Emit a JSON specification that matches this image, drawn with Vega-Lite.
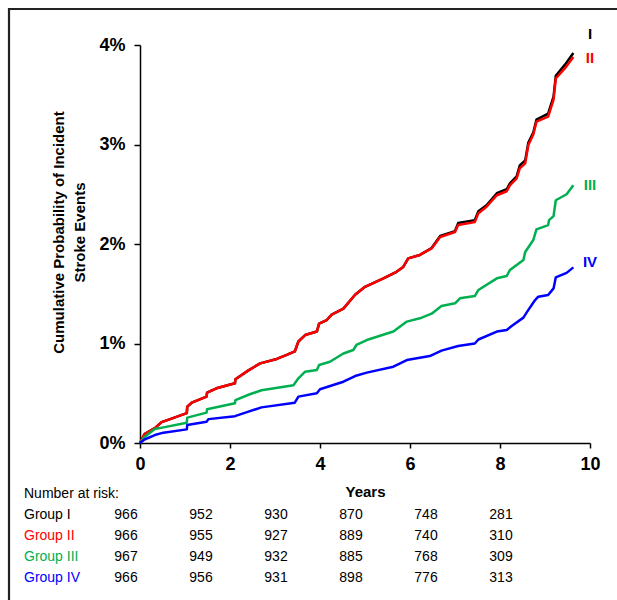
{
  "$schema": "https://vega.github.io/schema/vega-lite/v6.json",
  "width": 450,
  "height": 398,
  "autosize": {"type": "none"},
  "padding": {"left": 140, "top": 45, "right": 27, "bottom": 157},
  "background": "white",
  "config": {
    "view": {"stroke": null},
    "font": "Liberation Sans",
    "axis": {
      "grid": false,
      "domainColor": "#000",
      "domainWidth": 1.5,
      "tickColor": "#000",
      "tickWidth": 1.5,
      "labelFont": "Liberation Sans",
      "labelFontSize": 18,
      "labelFontWeight": "bold",
      "labelColor": "#000",
      "labelFlush": false,
      "titleFont": "Liberation Sans",
      "titleFontSize": 15,
      "titleFontWeight": "bold",
      "titleColor": "#000"
    },
    "axisX": {"tickSize": 5, "labelPadding": 7, "titlePadding": 11, "labelFlush": false},
    "axisY": {"tickSize": 6, "labelPadding": 9, "titlePadding": 11, "titleLineHeight": 21, "titleY": 187}
  },
  "datasets": {
    "frame": [{"t": -2.911, "t2": 11, "p": -1.8, "p2": 4.362}],
    "curves": [
      {"g": "I", "t": 0, "p": 0}, {"g": "I", "t": 0.1, "p": 0.09}, {"g": "I", "t": 0.33, "p": 0.15}, {"g": "I", "t": 0.48, "p": 0.21}, {"g": "I", "t": 0.67, "p": 0.24}, {"g": "I", "t": 1.04, "p": 0.3}, {"g": "I", "t": 1.05, "p": 0.365}, {"g": "I", "t": 1.15, "p": 0.405}, {"g": "I", "t": 1.48, "p": 0.466}, {"g": "I", "t": 1.49, "p": 0.506}, {"g": "I", "t": 1.7, "p": 0.55}, {"g": "I", "t": 2.11, "p": 0.6}, {"g": "I", "t": 2.12, "p": 0.64}, {"g": "I", "t": 2.41, "p": 0.73}, {"g": "I", "t": 2.67, "p": 0.8}, {"g": "I", "t": 3.04, "p": 0.845}, {"g": "I", "t": 3.26, "p": 0.885}, {"g": "I", "t": 3.44, "p": 0.92}, {"g": "I", "t": 3.52, "p": 1.02}, {"g": "I", "t": 3.67, "p": 1.085}, {"g": "I", "t": 3.93, "p": 1.12}, {"g": "I", "t": 3.98, "p": 1.2}, {"g": "I", "t": 4.15, "p": 1.236}, {"g": "I", "t": 4.26, "p": 1.29}, {"g": "I", "t": 4.52, "p": 1.35}, {"g": "I", "t": 4.78, "p": 1.49}, {"g": "I", "t": 5.0, "p": 1.57}, {"g": "I", "t": 5.41, "p": 1.655}, {"g": "I", "t": 5.7, "p": 1.72}, {"g": "I", "t": 5.85, "p": 1.77}, {"g": "I", "t": 5.96, "p": 1.856}, {"g": "I", "t": 6.22, "p": 1.89}, {"g": "I", "t": 6.48, "p": 1.96}, {"g": "I", "t": 6.67, "p": 2.08}, {"g": "I", "t": 7.0, "p": 2.13}, {"g": "I", "t": 7.07, "p": 2.21}, {"g": "I", "t": 7.44, "p": 2.24}, {"g": "I", "t": 7.52, "p": 2.33}, {"g": "I", "t": 7.7, "p": 2.39}, {"g": "I", "t": 7.93, "p": 2.51}, {"g": "I", "t": 8.15, "p": 2.55}, {"g": "I", "t": 8.22, "p": 2.61}, {"g": "I", "t": 8.37, "p": 2.68}, {"g": "I", "t": 8.44, "p": 2.79}, {"g": "I", "t": 8.56, "p": 2.84}, {"g": "I", "t": 8.63, "p": 3.02}, {"g": "I", "t": 8.74, "p": 3.12}, {"g": "I", "t": 8.81, "p": 3.25}, {"g": "I", "t": 9.07, "p": 3.31}, {"g": "I", "t": 9.19, "p": 3.48}, {"g": "I", "t": 9.24, "p": 3.69}, {"g": "I", "t": 9.44, "p": 3.8}, {"g": "I", "t": 9.63, "p": 3.92},
      {"g": "II", "t": 0, "p": 0}, {"g": "II", "t": 0.1, "p": 0.09}, {"g": "II", "t": 0.33, "p": 0.15}, {"g": "II", "t": 0.48, "p": 0.21}, {"g": "II", "t": 0.67, "p": 0.24}, {"g": "II", "t": 1.04, "p": 0.3}, {"g": "II", "t": 1.05, "p": 0.365}, {"g": "II", "t": 1.15, "p": 0.405}, {"g": "II", "t": 1.48, "p": 0.466}, {"g": "II", "t": 1.49, "p": 0.506}, {"g": "II", "t": 1.7, "p": 0.55}, {"g": "II", "t": 2.11, "p": 0.6}, {"g": "II", "t": 2.12, "p": 0.64}, {"g": "II", "t": 2.41, "p": 0.73}, {"g": "II", "t": 2.67, "p": 0.8}, {"g": "II", "t": 3.04, "p": 0.845}, {"g": "II", "t": 3.26, "p": 0.885}, {"g": "II", "t": 3.44, "p": 0.92}, {"g": "II", "t": 3.52, "p": 1.02}, {"g": "II", "t": 3.67, "p": 1.085}, {"g": "II", "t": 3.93, "p": 1.12}, {"g": "II", "t": 3.98, "p": 1.2}, {"g": "II", "t": 4.15, "p": 1.236}, {"g": "II", "t": 4.26, "p": 1.29}, {"g": "II", "t": 4.52, "p": 1.35}, {"g": "II", "t": 4.78, "p": 1.49}, {"g": "II", "t": 5.0, "p": 1.57}, {"g": "II", "t": 5.41, "p": 1.655}, {"g": "II", "t": 5.7, "p": 1.72}, {"g": "II", "t": 5.85, "p": 1.77}, {"g": "II", "t": 5.96, "p": 1.856}, {"g": "II", "t": 6.22, "p": 1.89}, {"g": "II", "t": 6.48, "p": 1.956}, {"g": "II", "t": 6.67, "p": 2.07}, {"g": "II", "t": 7.0, "p": 2.12}, {"g": "II", "t": 7.07, "p": 2.19}, {"g": "II", "t": 7.44, "p": 2.22}, {"g": "II", "t": 7.52, "p": 2.31}, {"g": "II", "t": 7.7, "p": 2.375}, {"g": "II", "t": 7.93, "p": 2.49}, {"g": "II", "t": 8.15, "p": 2.53}, {"g": "II", "t": 8.22, "p": 2.59}, {"g": "II", "t": 8.37, "p": 2.66}, {"g": "II", "t": 8.44, "p": 2.76}, {"g": "II", "t": 8.56, "p": 2.81}, {"g": "II", "t": 8.63, "p": 2.995}, {"g": "II", "t": 8.74, "p": 3.1}, {"g": "II", "t": 8.81, "p": 3.23}, {"g": "II", "t": 9.07, "p": 3.28}, {"g": "II", "t": 9.19, "p": 3.45}, {"g": "II", "t": 9.24, "p": 3.665}, {"g": "II", "t": 9.44, "p": 3.765}, {"g": "II", "t": 9.63, "p": 3.88},
      {"g": "III", "t": 0, "p": 0}, {"g": "III", "t": 0.1, "p": 0.06}, {"g": "III", "t": 0.33, "p": 0.14}, {"g": "III", "t": 0.52, "p": 0.157}, {"g": "III", "t": 1.04, "p": 0.204}, {"g": "III", "t": 1.05, "p": 0.255}, {"g": "III", "t": 1.48, "p": 0.305}, {"g": "III", "t": 1.49, "p": 0.34}, {"g": "III", "t": 2.11, "p": 0.4}, {"g": "III", "t": 2.12, "p": 0.43}, {"g": "III", "t": 2.44, "p": 0.49}, {"g": "III", "t": 2.7, "p": 0.53}, {"g": "III", "t": 3.41, "p": 0.58}, {"g": "III", "t": 3.52, "p": 0.65}, {"g": "III", "t": 3.67, "p": 0.717}, {"g": "III", "t": 3.93, "p": 0.734}, {"g": "III", "t": 3.98, "p": 0.784}, {"g": "III", "t": 4.22, "p": 0.817}, {"g": "III", "t": 4.52, "p": 0.9}, {"g": "III", "t": 4.74, "p": 0.935}, {"g": "III", "t": 4.81, "p": 0.985}, {"g": "III", "t": 5.04, "p": 1.035}, {"g": "III", "t": 5.63, "p": 1.12}, {"g": "III", "t": 5.93, "p": 1.22}, {"g": "III", "t": 6.22, "p": 1.253}, {"g": "III", "t": 6.48, "p": 1.3}, {"g": "III", "t": 6.7, "p": 1.377}, {"g": "III", "t": 7.0, "p": 1.404}, {"g": "III", "t": 7.11, "p": 1.454}, {"g": "III", "t": 7.44, "p": 1.477}, {"g": "III", "t": 7.52, "p": 1.538}, {"g": "III", "t": 7.93, "p": 1.655}, {"g": "III", "t": 8.15, "p": 1.678}, {"g": "III", "t": 8.22, "p": 1.739}, {"g": "III", "t": 8.52, "p": 1.84}, {"g": "III", "t": 8.56, "p": 1.92}, {"g": "III", "t": 8.74, "p": 2.04}, {"g": "III", "t": 8.81, "p": 2.147}, {"g": "III", "t": 9.07, "p": 2.19}, {"g": "III", "t": 9.09, "p": 2.24}, {"g": "III", "t": 9.19, "p": 2.28}, {"g": "III", "t": 9.24, "p": 2.44}, {"g": "III", "t": 9.48, "p": 2.5}, {"g": "III", "t": 9.63, "p": 2.59},
      {"g": "IV", "t": 0, "p": 0}, {"g": "IV", "t": 0.1, "p": 0.035}, {"g": "IV", "t": 0.33, "p": 0.08}, {"g": "IV", "t": 0.52, "p": 0.104}, {"g": "IV", "t": 1.04, "p": 0.137}, {"g": "IV", "t": 1.05, "p": 0.18}, {"g": "IV", "t": 1.48, "p": 0.214}, {"g": "IV", "t": 1.52, "p": 0.24}, {"g": "IV", "t": 2.11, "p": 0.27}, {"g": "IV", "t": 2.41, "p": 0.315}, {"g": "IV", "t": 2.7, "p": 0.358}, {"g": "IV", "t": 3.44, "p": 0.405}, {"g": "IV", "t": 3.52, "p": 0.466}, {"g": "IV", "t": 3.93, "p": 0.5}, {"g": "IV", "t": 4.0, "p": 0.54}, {"g": "IV", "t": 4.52, "p": 0.616}, {"g": "IV", "t": 4.78, "p": 0.673}, {"g": "IV", "t": 5.04, "p": 0.707}, {"g": "IV", "t": 5.63, "p": 0.767}, {"g": "IV", "t": 5.93, "p": 0.834}, {"g": "IV", "t": 6.44, "p": 0.874}, {"g": "IV", "t": 6.7, "p": 0.928}, {"g": "IV", "t": 7.07, "p": 0.975}, {"g": "IV", "t": 7.44, "p": 1.0}, {"g": "IV", "t": 7.52, "p": 1.04}, {"g": "IV", "t": 7.93, "p": 1.12}, {"g": "IV", "t": 8.15, "p": 1.136}, {"g": "IV", "t": 8.26, "p": 1.176}, {"g": "IV", "t": 8.52, "p": 1.26}, {"g": "IV", "t": 8.59, "p": 1.31}, {"g": "IV", "t": 8.78, "p": 1.437}, {"g": "IV", "t": 8.85, "p": 1.47}, {"g": "IV", "t": 9.07, "p": 1.487}, {"g": "IV", "t": 9.19, "p": 1.554}, {"g": "IV", "t": 9.24, "p": 1.665}, {"g": "IV", "t": 9.48, "p": 1.71}, {"g": "IV", "t": 9.63, "p": 1.765}
    ],
    "endlabels": [
      {"g": "I", "t": 10, "p": 4.11},
      {"g": "II", "t": 10, "p": 3.87},
      {"g": "III", "t": 10, "p": 2.59},
      {"g": "IV", "t": 10, "p": 1.82}
    ],
    "rowlabels": [
      {"grp": "hdr", "label": "Number at risk:", "row": 0, "col": 0},
      {"grp": "I", "label": "Group I", "row": 1, "col": 0},
      {"grp": "II", "label": "Group II", "row": 2, "col": 0},
      {"grp": "III", "label": "Group III", "row": 3, "col": 0},
      {"grp": "IV", "label": "Group IV", "row": 4, "col": 0}
    ],
    "risk": [
      {"row": 1, "col": 1, "n": 966}, {"row": 1, "col": 2, "n": 952}, {"row": 1, "col": 3, "n": 930}, {"row": 1, "col": 4, "n": 870}, {"row": 1, "col": 5, "n": 748}, {"row": 1, "col": 6, "n": 281},
      {"row": 2, "col": 1, "n": 966}, {"row": 2, "col": 2, "n": 955}, {"row": 2, "col": 3, "n": 927}, {"row": 2, "col": 4, "n": 889}, {"row": 2, "col": 5, "n": 740}, {"row": 2, "col": 6, "n": 310},
      {"row": 3, "col": 1, "n": 967}, {"row": 3, "col": 2, "n": 949}, {"row": 3, "col": 3, "n": 932}, {"row": 3, "col": 4, "n": 885}, {"row": 3, "col": 5, "n": 768}, {"row": 3, "col": 6, "n": 309},
      {"row": 4, "col": 1, "n": 966}, {"row": 4, "col": 2, "n": 956}, {"row": 4, "col": 3, "n": 931}, {"row": 4, "col": 4, "n": 898}, {"row": 4, "col": 5, "n": 776}, {"row": 4, "col": 6, "n": 313}
    ]
  },
  "layer": [
    {
      "layer": [
        {
          "data": {"name": "frame"},
          "mark": {"type": "rect", "filled": false, "color": "#222222", "strokeWidth": 2.2},
          "encoding": {
            "x": {"field": "t", "type": "quantitative", "title": "Years", "scale": {"domain": [0, 10], "nice": false, "zero": false}, "axis": {"values": [0, 2, 4, 6, 8, 10], "format": "d", "title": "Years", "labelFlush": false}},
            "x2": {"field": "t2"},
            "y": {"field": "p", "type": "quantitative", "title": ["Cumulative Probability of Incident", "Stroke Events"], "scale": {"domain": [0, 4], "nice": false, "zero": false}, "axis": {"values": [0, 1, 2, 3, 4], "labelExpr": "datum.value + '%'", "title": ["Cumulative Probability of Incident", "Stroke Events"]}},
            "y2": {"field": "p2"}
          }
        },
        {
          "data": {"name": "curves"},
          "mark": {"type": "line", "strokeWidth": 2.5, "strokeJoin": "round"},
          "encoding": {
            "x": {"field": "t", "type": "quantitative", "title": "Years", "scale": {"domain": [0, 10], "nice": false, "zero": false}, "axis": {"values": [0, 2, 4, 6, 8, 10], "format": "d", "title": "Years", "labelFlush": false}},
            "y": {"field": "p", "type": "quantitative", "title": ["Cumulative Probability of Incident", "Stroke Events"], "scale": {"domain": [0, 4], "nice": false, "zero": false}, "axis": {"values": [0, 1, 2, 3, 4], "labelExpr": "datum.value + '%'", "title": ["Cumulative Probability of Incident", "Stroke Events"]}},
            "color": {"field": "g", "type": "nominal", "scale": {"domain": ["I", "II", "III", "IV"], "range": ["#000000", "#ff0000", "#00b050", "#0000ff"]}, "legend": null}
          }
        },
        {
          "data": {"name": "endlabels"},
          "mark": {"type": "text", "font": "Liberation Sans", "fontSize": 15, "fontWeight": "bold", "align": "center", "baseline": "middle"},
          "encoding": {
            "x": {"field": "t", "type": "quantitative"},
            "y": {"field": "p", "type": "quantitative"},
            "text": {"field": "g"},
            "color": {"field": "g", "type": "nominal", "legend": null}
          }
        }
      ]
    },
    {
      "layer": [
        {
          "data": {"name": "rowlabels"},
          "mark": {"type": "text", "font": "Liberation Sans", "fontSize": 14, "align": "left", "baseline": "middle", "dx": -27},
          "encoding": {
            "x": {"field": "col", "type": "quantitative", "scale": {"domain": [1, 6], "range": [-14, 361], "zero": false, "nice": false}, "axis": null},
            "y": {"field": "row", "type": "quantitative", "scale": {"domain": [0, 4], "range": [449, 533], "zero": false, "nice": false}, "axis": null},
            "text": {"field": "label"},
            "color": {"field": "grp", "type": "nominal", "scale": {"domain": ["hdr", "I", "II", "III", "IV"], "range": ["#000000", "#000000", "#ff0000", "#00b050", "#0000ff"]}, "legend": null}
          }
        },
        {
          "data": {"name": "risk"},
          "mark": {"type": "text", "font": "Liberation Sans", "fontSize": 14, "align": "center", "baseline": "middle", "color": "#000000"},
          "encoding": {
            "x": {"field": "col", "type": "quantitative", "axis": null},
            "y": {"field": "row", "type": "quantitative", "axis": null},
            "text": {"field": "n"}
          }
        }
      ]
    }
  ],
  "resolve": {"scale": {"x": "independent", "y": "independent", "color": "independent"}}
}
